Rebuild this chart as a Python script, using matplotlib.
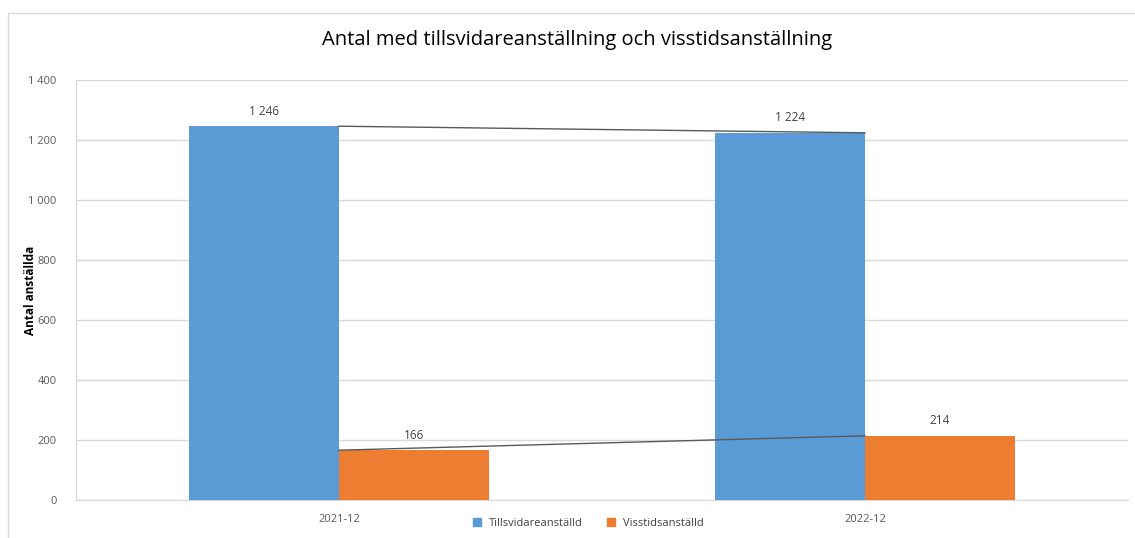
import matplotlib.pyplot as plt
import numpy as np
from matplotlib.lines import Line2D
from matplotlib.ticker import FuncFormatter

# data
CATEGORIES = ["2021-12", "2022-12"]
TILLSVIDARE = [1246, 1224]
VISSTID = [166, 214]
SERIES_NAMES = ["Tillsvidareanställd", "Visstidsanställd"]

TITLE = "Antal med tillsvidareanställning och visstidsanställning"
Y_LABEL = "Antal anställda"

BLUE = "#5b9bd5"
ORANGE = "#ed7d31"
GRID = "#d9d9d9"
TICK_COLOR = "#595959"
LABEL_COLOR = "#404040"

W, H = 1135, 538
BAR_WIDTH = 0.285

plt.rcParams['font.family'] = ['Open Sans', 'DejaVu Sans']


def space_thousands(v, pos=None):
    return f"{int(v):,}".replace(",", " ")


fig = plt.figure(figsize=(W / 100, H / 100), dpi=100)
# plot area in pixels: left 76, right 1128, top 80, bottom 500
ax = fig.add_axes([76 / W, 1 - 500 / H, (1128 - 76) / W, (500 - 80) / H])

x = np.arange(len(CATEGORIES))
ax.bar(x - BAR_WIDTH / 2, TILLSVIDARE, BAR_WIDTH, color=BLUE, zorder=3, label=SERIES_NAMES[0])
ax.bar(x + BAR_WIDTH / 2, VISSTID, BAR_WIDTH, color=ORANGE, zorder=3, label=SERIES_NAMES[1])

# series lines between bar tops at the shared edge
ax.plot(x, TILLSVIDARE, color="#595959", lw=1, zorder=4)
ax.plot(x, VISSTID, color="#595959", lw=1, zorder=4)

for xi, v in zip(x, TILLSVIDARE):
    ax.annotate(space_thousands(v), (xi - BAR_WIDTH / 2, v), xytext=(0, 6), textcoords="offset points",
                ha="center", va="bottom", fontsize=8.5, color=LABEL_COLOR)
for xi, v in zip(x, VISSTID):
    ax.annotate(space_thousands(v), (xi + BAR_WIDTH / 2, v), xytext=(0, 6), textcoords="offset points",
                ha="center", va="bottom", fontsize=8.5, color=LABEL_COLOR)

ax.set_xlim(-0.5, len(CATEGORIES) - 0.5)
ax.set_ylim(0, 1400)
ax.set_yticks(range(0, 1401, 200))
ax.yaxis.set_major_formatter(FuncFormatter(space_thousands))
ax.set_xticks(x)
ax.set_xticklabels(CATEGORIES)
ax.tick_params(axis="both", length=0, labelsize=8, labelcolor=TICK_COLOR)
ax.tick_params(axis="x", pad=10)
ax.tick_params(axis="y", pad=14)
ax.grid(axis="y", color=GRID, lw=1, zorder=0)

for side in ["top", "right"]:
    ax.spines[side].set_visible(False)
ax.spines["left"].set_color(GRID)
ax.spines["bottom"].set_color(GRID)

fig.text(30 / W, 1 - 290 / H, Y_LABEL, rotation=90, ha="center", va="center",
         fontsize=8.5, fontweight="bold", color="black")

fig.text(577 / W, 1 - 40 / H, TITLE, ha="center", va="center", fontsize=14.5, color="black")

handles = [Line2D([0], [0], marker="s", ls="", color=BLUE, markersize=6, label=SERIES_NAMES[0]),
           Line2D([0], [0], marker="s", ls="", color=ORANGE, markersize=6, label=SERIES_NAMES[1])]
fig.legend(handles=handles, loc="center", bbox_to_anchor=(585 / W, 1 - 523 / H), ncol=2, frameon=False,
           fontsize=8, handletextpad=0.1, columnspacing=1.5, labelcolor=LABEL_COLOR)

# chart area border (left and top edges visible)
fig.add_artist(Line2D([8 / W, 8 / W], [0, 1 - 13 / H], color=GRID, lw=1))
fig.add_artist(Line2D([8 / W, 1], [1 - 13 / H, 1 - 13 / H], color=GRID, lw=1))

fig.savefig("out.png", dpi=100)
